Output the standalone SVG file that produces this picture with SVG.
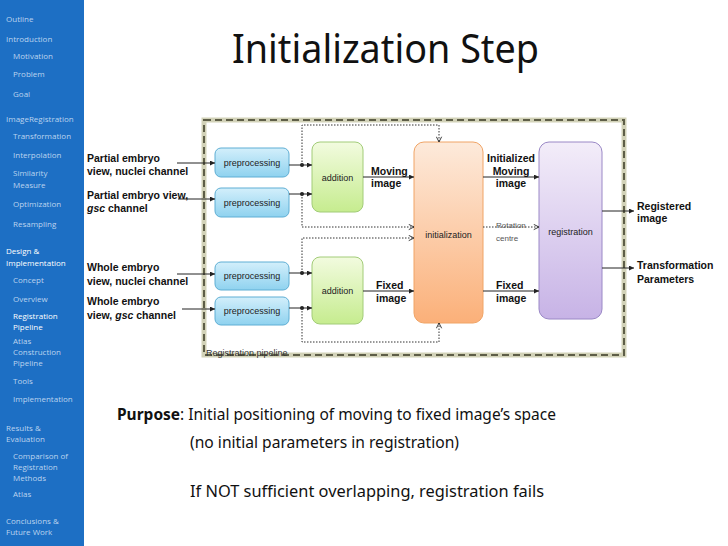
<svg xmlns="http://www.w3.org/2000/svg" width="728" height="546" viewBox="0 0 728 546">
<defs>
<linearGradient id="gBlue" x1="0" y1="0" x2="0" y2="1"><stop offset="0" stop-color="#d3effb"/><stop offset="1" stop-color="#8fd2ef"/></linearGradient>
<linearGradient id="gGreen" x1="0" y1="0" x2="0" y2="1"><stop offset="0" stop-color="#f2fbdf"/><stop offset="1" stop-color="#c6ec8f"/></linearGradient>
<linearGradient id="gOrange" x1="0" y1="0" x2="0" y2="1"><stop offset="0" stop-color="#fdeadb"/><stop offset="1" stop-color="#fbb079"/></linearGradient>
<linearGradient id="gPurple" x1="0" y1="0" x2="0" y2="1"><stop offset="0" stop-color="#f3edf9"/><stop offset="1" stop-color="#c7b3e6"/></linearGradient>
<marker id="ah" viewBox="0 0 6 6" refX="6" refY="3" markerWidth="5" markerHeight="5" orient="auto" markerUnits="userSpaceOnUse"><path d="M0,0 L6,3 L0,6 z" fill="#222"/></marker>
<marker id="oh" viewBox="0 0 8 8" refX="7" refY="4" markerWidth="7" markerHeight="7" orient="auto" markerUnits="userSpaceOnUse"><path d="M1,1 L7,4 L1,7" fill="none" stroke="#222" stroke-width="1"/></marker>
</defs>
<style>
.side{font-family:"Open Sans","Liberation Sans",sans-serif;font-size:8px;fill:#bcd4ef}
.sideh{font-family:"Open Sans","Liberation Sans",sans-serif;font-size:8px;fill:#ffffff}
.lbl{font-family:"Liberation Sans",Arial,sans-serif;font-size:10.5px;font-weight:bold;fill:#111}
.box{font-family:"Liberation Sans",Arial,sans-serif;font-size:9px;fill:#222}
.small{font-family:"Liberation Sans",Arial,sans-serif;font-size:8px;fill:#555}
.body{font-family:"Noto Sans","Open Sans",sans-serif;font-size:16px;fill:#111}
.sol{fill:none;stroke:#222;stroke-width:1}
.dot{fill:none;stroke:#333;stroke-width:1;stroke-dasharray:1.5 1.5}
</style>
<rect x="0" y="0" width="728" height="546" fill="#ffffff"/>
<g id="sidebar">
<rect x="0" y="0" width="84" height="546" fill="#1d6fc4"/>
<text class="side" x="6" y="22">Outline</text>
<text class="side" x="6" y="42">Introduction</text>
<text class="side" x="13" y="59">Motivation</text>
<text class="side" x="13" y="77">Problem</text>
<text class="side" x="13" y="97">Goal</text>
<text class="side" x="6" y="122">ImageRegistration</text>
<text class="side" x="13" y="139">Transformation</text>
<text class="side" x="13" y="158">Interpolation</text>
<text class="side" x="13" y="176">Similarity</text>
<text class="side" x="13" y="188">Measure</text>
<text class="side" x="13" y="207">Optimization</text>
<text class="side" x="13" y="227">Resampling</text>
<text class="sideh" x="6" y="254">Design &amp;</text>
<text class="sideh" x="6" y="266">Implementation</text>
<text class="side" x="13" y="283">Concept</text>
<text class="side" x="13" y="302">Overview</text>
<text class="sideh" x="13" y="319">Registration</text>
<text class="sideh" x="13" y="330">Pipeline</text>
<text class="side" x="13" y="344">Atlas</text>
<text class="side" x="13" y="355">Construction</text>
<text class="side" x="13" y="366">Pipeline</text>
<text class="side" x="13" y="384">Tools</text>
<text class="side" x="13" y="402">Implementation</text>
<text class="side" x="6" y="431">Results &amp;</text>
<text class="side" x="6" y="442">Evaluation</text>
<text class="side" x="13" y="459">Comparison of</text>
<text class="side" x="13" y="470">Registration</text>
<text class="side" x="13" y="481">Methods</text>
<text class="side" x="13" y="497">Atlas</text>
<text class="side" x="6" y="524">Conclusions &amp;</text>
<text class="side" x="6" y="535">Future Work</text>
</g>
<text x="232" y="63" font-family="'Noto Sans','Open Sans',sans-serif" font-size="40" fill="#111" textLength="307" lengthAdjust="spacingAndGlyphs">Initialization Step</text>
<g id="pipeline">
<rect x="204" y="120" width="420" height="235" fill="#ffffff" stroke="#d2d2b8" stroke-width="5"/>
<rect x="204" y="120" width="420" height="235" fill="none" stroke="#5e5e48" stroke-width="2" stroke-dasharray="7 4"/>
<text x="206" y="356" font-family="'Liberation Sans',Arial,sans-serif" font-size="9" fill="#333">Registration pipeline</text>
</g>
<g id="inputs">
<text class="lbl" x="87" y="162">Partial embryo</text>
<text class="lbl" x="87" y="175">view, nuclei channel</text>
<text class="lbl" x="87" y="199">Partial embryo view,</text>
<text class="lbl" x="87" y="212"><tspan font-style="italic">gsc</tspan> channel</text>
<text class="lbl" x="87" y="271">Whole embryo</text>
<text class="lbl" x="87" y="285">view, nuclei channel</text>
<text class="lbl" x="87" y="305">Whole embryo</text>
<text class="lbl" x="87" y="319">view, <tspan font-style="italic">gsc</tspan> channel</text>
</g>
<g id="pre1"><rect x="215" y="148" width="74" height="29" rx="6" fill="url(#gBlue)" stroke="#5eaed4"/><text class="box" x="252" y="166" text-anchor="middle">preprocessing</text></g>
<g id="pre2"><rect x="215" y="188" width="74" height="29" rx="6" fill="url(#gBlue)" stroke="#5eaed4"/><text class="box" x="252" y="206" text-anchor="middle">preprocessing</text></g>
<g id="pre3"><rect x="215" y="262" width="74" height="28" rx="6" fill="url(#gBlue)" stroke="#5eaed4"/><text class="box" x="252" y="279" text-anchor="middle">preprocessing</text></g>
<g id="pre4"><rect x="215" y="297" width="74" height="28" rx="6" fill="url(#gBlue)" stroke="#5eaed4"/><text class="box" x="252" y="314" text-anchor="middle">preprocessing</text></g>
<g id="add1"><rect x="312" y="142" width="51" height="70" rx="8" fill="url(#gGreen)" stroke="#a2cc78"/><text class="box" x="337.5" y="181" text-anchor="middle" font-size="9.5">addition</text></g>
<g id="add2"><rect x="312" y="257" width="51" height="67" rx="8" fill="url(#gGreen)" stroke="#a2cc78"/><text class="box" x="337.5" y="294" text-anchor="middle" font-size="9.5">addition</text></g>
<g id="init"><rect x="414" y="142" width="69" height="181" rx="10" fill="url(#gOrange)" stroke="#f0a466"/><text class="box" x="448.5" y="238" text-anchor="middle">initialization</text></g>
<g id="reg"><rect x="539" y="142" width="63" height="177" rx="10" fill="url(#gPurple)" stroke="#9a88c6"/><text class="box" x="570.5" y="235" text-anchor="middle" font-size="9.5">registration</text></g>
<g id="connectors">
<line class="sol" x1="177" y1="163" x2="215" y2="163" marker-end="url(#ah)"/>
<line class="sol" x1="178" y1="199" x2="215" y2="199" marker-end="url(#ah)"/>
<line class="sol" x1="177" y1="274" x2="215" y2="274" marker-end="url(#ah)"/>
<line class="sol" x1="182" y1="309" x2="215" y2="309" marker-end="url(#ah)"/>
<line class="sol" x1="289" y1="165" x2="312" y2="165" marker-end="url(#ah)"/>
<line class="sol" x1="289" y1="194" x2="312" y2="194" marker-end="url(#ah)"/>
<line class="sol" x1="289" y1="273" x2="312" y2="273" marker-end="url(#ah)"/>
<line class="sol" x1="289" y1="308" x2="312" y2="308" marker-end="url(#ah)"/>
<circle cx="302" cy="165" r="2" fill="#222"/>
<circle cx="302" cy="194" r="2" fill="#222"/>
<circle cx="302" cy="273" r="2" fill="#222"/>
<circle cx="302" cy="308" r="2" fill="#222"/>
<polyline class="dot" points="302,165 302,125 439,125 439,142" marker-end="url(#oh)"/>
<polyline class="dot" points="302,194 302,227 414,227" marker-end="url(#oh)"/>
<polyline class="dot" points="302,273 302,238 414,238" marker-end="url(#oh)"/>
<polyline class="dot" points="302,308 302,342 439,342 439,323" marker-end="url(#oh)"/>
<line class="sol" x1="363" y1="177" x2="414" y2="177" marker-end="url(#ah)"/>
<line class="sol" x1="363" y1="291" x2="414" y2="291" marker-end="url(#ah)"/>
<line class="sol" x1="483" y1="177" x2="539" y2="177" marker-end="url(#ah)"/>
<line class="dot" x1="483" y1="227" x2="539" y2="227" marker-end="url(#oh)"/>
<line class="sol" x1="483" y1="291" x2="539" y2="291" marker-end="url(#ah)"/>
<line class="sol" x1="602" y1="211" x2="634" y2="211" marker-end="url(#ah)"/>
<line class="sol" x1="602" y1="268" x2="634" y2="268" marker-end="url(#ah)"/>
</g>
<g id="edge-labels">
<text class="lbl" x="371" y="175" font-size="10">Moving</text>
<text class="lbl" x="371" y="187" font-size="10">image</text>
<text class="lbl" x="376" y="289" font-size="10">Fixed</text>
<text class="lbl" x="376" y="302" font-size="10">image</text>
<text class="lbl" x="511" y="162" font-size="10" text-anchor="middle">Initialized</text>
<text class="lbl" x="511" y="175" font-size="10" text-anchor="middle">Moving</text>
<text class="lbl" x="511" y="187" font-size="10" text-anchor="middle">image</text>
<text class="small" x="496" y="228">Rotation</text>
<text class="small" x="496" y="241">centre</text>
<text class="lbl" x="496" y="289" font-size="10">Fixed</text>
<text class="lbl" x="496" y="302" font-size="10">image</text>
<text class="lbl" x="637" y="210">Registered</text>
<text class="lbl" x="637" y="222">image</text>
<text class="lbl" x="637" y="269">Transformation</text>
<text class="lbl" x="637" y="283">Parameters</text>
</g>
<g id="notes">
<text class="body" x="117" y="420" textLength="439" lengthAdjust="spacingAndGlyphs"><tspan font-weight="bold">Purpose</tspan>: Initial positioning of moving to fixed image’s space</text>
<text class="body" x="190" y="448" textLength="269" lengthAdjust="spacingAndGlyphs">(no initial parameters in registration)</text>
<text class="body" x="190" y="497" textLength="354" lengthAdjust="spacingAndGlyphs">If NOT sufficient overlapping, registration fails</text>
</g>
</svg>
